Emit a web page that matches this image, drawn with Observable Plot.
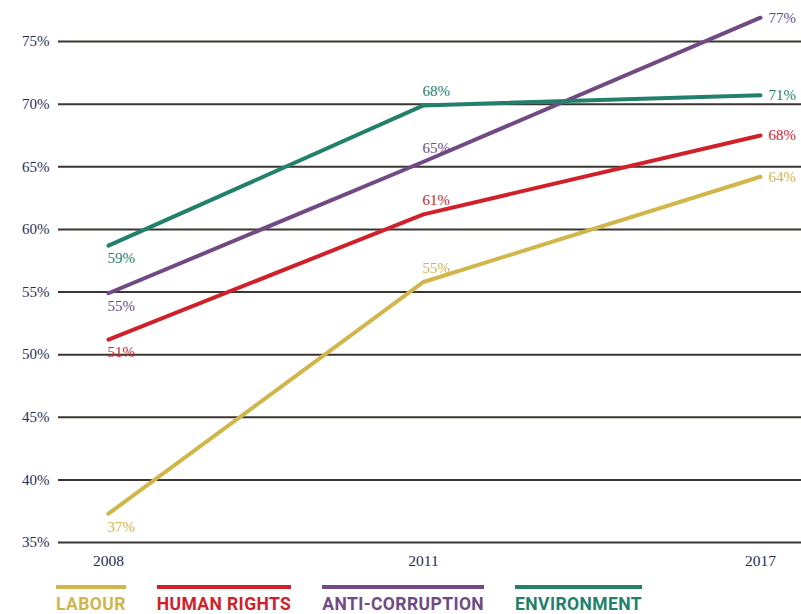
<!DOCTYPE html>
<html><head><meta charset="utf-8">
<script src="https://cdn.jsdelivr.net/npm/d3@7"></script>
<script src="https://cdn.jsdelivr.net/npm/@observablehq/plot@0.6"></script>
<style>
body{margin:0;background:#fff;}
#wrap{position:relative;width:801px;height:614px;}
#legend{position:absolute;left:56px;top:585px;display:flex;gap:31px;font-family:Roboto,sans-serif;font-weight:700;font-size:17.5px;letter-spacing:0.4px;line-height:1;}
#legend .item{border-top:4px solid;padding-top:7px;}
</style></head>
<body><div id="wrap"><div id="chart"></div><div id="legend"></div></div>
<script>
const years = [2008, 2011, 2017];
const categories = ["LABOUR", "HUMAN RIGHTS", "ANTI-CORRUPTION", "ENVIRONMENT"];
const colors = ["#d1b64b", "#d0212b", "#714a85", "#23806b"];
const labour = [37.3, 55.8, 64.2];
const humanRights = [51.2, 61.2, 67.5];
const antiCorruption = [54.9, 65.4, 76.9];
const environment = [58.7, 69.9, 70.7];
const labourLabels = ["37%", "55%", "64%"];
const humanRightsLabels = ["51%", "61%", "68%"];
const antiCorruptionLabels = ["55%", "65%", "77%"];
const environmentLabels = ["59%", "68%", "71%"];
const yTicks = [35, 40, 45, 50, 55, 60, 65, 70, 75];

const series = [labour, humanRights, antiCorruption, environment];
const seriesLabels = [labourLabels, humanRightsLabels, antiCorruptionLabels, environmentLabels];
const data = [];
categories.forEach((c, i) => years.forEach((yr, j) => data.push({category: c, year: yr, value: series[i][j], label: seriesLabels[i][j], idx: j})));

const serif = "'Liberation Serif', 'DejaVu Serif', serif";
const labelMarks = [
  {idx: 0, dx: -1, dy: 13},
  {idx: 1, dx: -1, dy: -14},
  {idx: 2, dx: 8, dy: 0}
].map(o => Plot.text(data.filter(d => d.idx === o.idx), {
  x: "year", y: "value", text: "label", fill: "category", textAnchor: "start",
  dx: o.dx, dy: o.dy, fontSize: 15, fontFamily: serif
}));

const chart = Plot.plot({
  width: 801, height: 578,
  marginLeft: 58, marginRight: 0, marginTop: 0, marginBottom: 36,
  style: {fontFamily: serif, fontSize: "15px", color: "#2a2f4f", background: "#fff"},
  x: {type: "linear", domain: years, range: [108, 423, 760]},
  y: {domain: [35, 75], range: [542, 41]},
  color: {domain: categories, range: colors},
  marks: [
    Plot.ruleY(yTicks, {stroke: "#3b3631", strokeWidth: 2}),
    Plot.axisY({ticks: yTicks, tickSize: 0, tickPadding: 9, tickFormat: d => d + "%", label: null, fontSize: 15, fontFamily: serif, fill: "#2a2f4f"}),
    Plot.axisX({ticks: years, tickSize: 0, tickPadding: 12, tickFormat: d => String(d), label: null, fontSize: 15.5, fontFamily: serif, fill: "#2a2f4f"}),
    Plot.line(data, {x: "year", y: "value", z: "category", stroke: "category", strokeWidth: 4, strokeLinejoin: "round"}),
    ...labelMarks
  ]
});
document.getElementById("chart").appendChild(chart);

const legend = document.getElementById("legend");
categories.forEach((c, i) => {
  const el = document.createElement("div");
  el.className = "item";
  el.style.borderColor = colors[i];
  el.style.color = colors[i];
  el.textContent = c;
  legend.appendChild(el);
});
</script></body></html>
